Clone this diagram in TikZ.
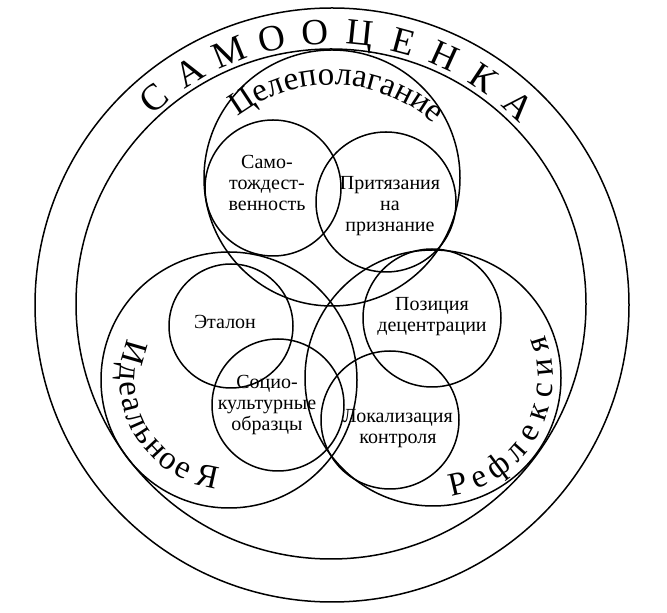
\documentclass[tikz,border=0pt]{standalone}
\usepackage{fontspec}
\setmainfont{Liberation Serif}
\usetikzlibrary{decorations.text}

\tikzset{
    ring/.style={line width=1.5pt},
    lbl/.style={font=\fontsize{20}{21}\selectfont, align=center},
    bigletter/.style={anchor=base, inner sep=0pt},
}

\begin{document}
\begin{tikzpicture}[x=1pt, y=1pt]
    \useasboundingbox (0,0) rectangle (667,613);

    % Outer rings
    \draw[ring] (332,308) circle (297);
    \draw[ring] (331,309) circle (255);

    % Big circles
    \foreach \x/\y in {332/435, 229/233, 433/235} {
        \draw[ring] (\x,\y) circle (128);
    }

    % Small circles
    \foreach \x/\y/\r in {273/425/68, 386/411/70, 231/287/62, 278/208/66, 432/295/69, 390/193/69} {
        \draw[ring] (\x,\y) circle (\r);
    }

    % Labels
    \node[lbl] (self) at (267,430) {Само-\\тождест-\\венность};
    \node[lbl] (claim) at (390,407) {Притязания\\на\\признание};
    \node[lbl] (etalon) at (225,291) {Эталон};
    \node[lbl] (socio) at (267,208) {Социо-\\культурные\\образцы};
    \node[lbl] (decentr) at (432,296) {Позиция\\децентрации};
    \node[lbl] (locus) at (398,184) {Локализация\\контроля};

    % Title on the outer ring
    \begin{scope}[shift={(332,308)}]
        \foreach \l [count=\i from 0] in {С,А,М,О,О,Ц,Е,Н,К,А} {
            \pgfmathsetmacro\a{130.7-9.3*\i}
            \node[bigletter, rotate=\a-90, font=\fontsize{37}{37}\selectfont] (t\i) at (\a:261) {\l};
        }
    \end{scope}

    % Names of the big circles
    \path[decorate, decoration={text along path, text align=center,
        text={|\fontsize{33}{33}\selectfont|Целеполагание}}]
        (332,375) ++(150:153) arc (150:26:153);
    \begin{scope}[shift={(229,233)}]
        \foreach \l/\a [count=\i] in {И/164, д/175.8, е/185.3, а/194.2, л/203.7, ь/213.2, н/222.9, о/233.1, е/242.6, Я/257.6} {
            \node[bigletter, rotate=\a+90, font=\fontsize{33}{33}\selectfont] (i\i) at (\a:109) {\l};
        }
    \end{scope}
    \begin{scope}[shift={(433,235)}]
        \foreach \l [count=\i from 0] in {Р,е,ф,л,е,к,с,и,я} {
            \pgfmathsetmacro\a{283+11.8*\i}
            \node[bigletter, rotate=\a+90, font=\fontsize{33}{33}\selectfont] (r\i) at (\a:120) {\l};
        }
    \end{scope}
\end{tikzpicture}
\end{document}
